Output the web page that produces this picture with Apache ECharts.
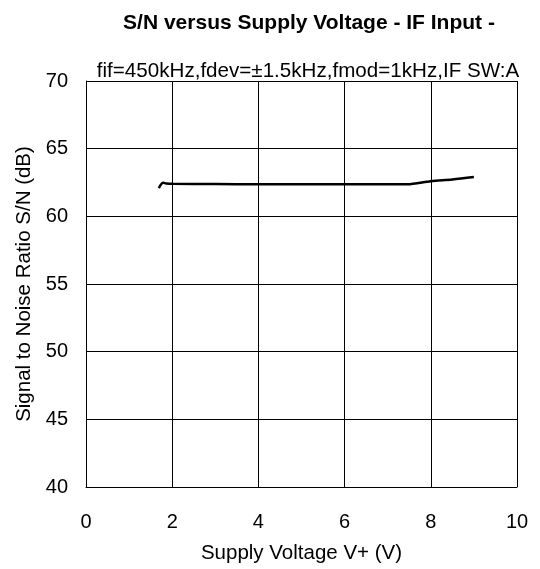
<!DOCTYPE html>
<html>
<head>
<meta charset="utf-8">
<script src="https://cdn.jsdelivr.net/npm/echarts@6/dist/echarts.min.js"></script>
<style>
html,body{margin:0;padding:0;background:#fff;}
#chart{width:540px;height:569px;}
</style>
</head>
<body>
<div id="chart"></div>
<script>
const titleText = 'S/N versus Supply Voltage - IF Input -';
const subtitleText = 'fif=450kHz,fdev=\u00b11.5kHz,fmod=1kHz,IF SW:A';
const xName = 'Supply Voltage V+ (V)';
const yName = 'Signal to Noise Ratio S/N (dB)';
const supplyVoltage = [1.69, 1.79, 1.86, 2.0, 3.0, 4.0, 5.0, 6.0, 7.0, 7.45, 8.0, 8.5, 9.0];
const snRatio = [62.09, 62.48, 62.43, 62.40, 62.38, 62.37, 62.37, 62.37, 62.37, 62.37, 62.60, 62.72, 62.90];

const chart = echarts.init(document.getElementById('chart'), null, {renderer: 'canvas'});
const font = 'Liberation Sans, Arial, sans-serif';
chart.setOption({
  backgroundColor: '#ffffff',
  animation: false,
  title: [
    {text: titleText, left: 304, top: 8, textAlign: 'center',
     textStyle: {fontFamily: font, fontWeight: 'bold', fontSize: 21, color: '#000'}},
    {text: subtitleText, left: 303, top: 56, textAlign: 'center',
     textStyle: {fontFamily: font, fontWeight: 'normal', fontSize: 20.6, color: '#000'}}
  ],
  grid: {left: 86, right: 23, top: 81, bottom: 77, containLabel: false},
  xAxis: {
    type: 'value', min: 0, max: 10, interval: 2,
    name: xName, nameLocation: 'middle', nameGap: 56,
    nameTextStyle: {fontFamily: font, fontSize: 20.5, color: '#000'},
    axisLine: {show: true, lineStyle: {color: '#000', width: 1}},
    axisTick: {show: false},
    axisLabel: {fontFamily: font, fontSize: 20, color: '#000', margin: 25},
    splitLine: {show: true, lineStyle: {color: '#000', width: 1}}
  },
  yAxis: {
    type: 'value', min: 40, max: 70, interval: 5,
    name: yName, nameLocation: 'middle', nameGap: 51,
    nameTextStyle: {fontFamily: font, fontSize: 20.5, color: '#000'},
    axisLine: {show: true, lineStyle: {color: '#000', width: 1}},
    axisTick: {show: false},
    axisLabel: {fontFamily: font, fontSize: 20, color: '#000', margin: 18},
    splitLine: {show: true, lineStyle: {color: '#000', width: 1}}
  },
  series: [{
    type: 'line',
    data: supplyVoltage.map((v, i) => [v, snRatio[i]]),
    showSymbol: false,
    smooth: 0.3,
    lineStyle: {color: '#000', width: 2.5},
    z: 5
  }]
});
</script>
</body>
</html>
